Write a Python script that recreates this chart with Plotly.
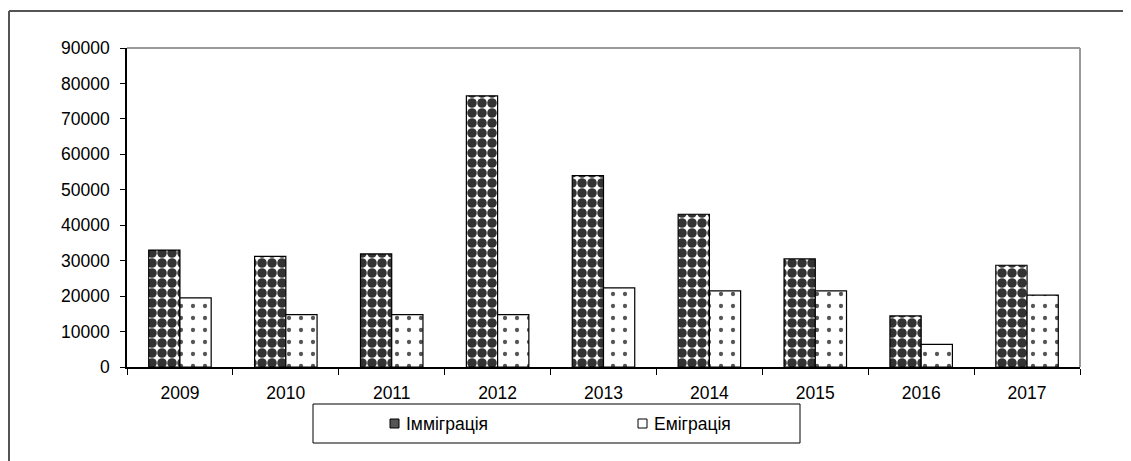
import plotly.graph_objects as go

years = ["2009", "2010", "2011", "2012", "2013", "2014", "2015", "2016", "2017"]
immigration = [33000, 31200, 31900, 76500, 54000, 43100, 30500, 14400, 28700]
emigration = [19500, 14800, 14800, 14800, 22300, 21500, 21500, 6400, 20300]
y_ticks = [0, 10000, 20000, 30000, 40000, 50000, 60000, 70000, 80000, 90000]
series_names = ["Імміграція", "Еміграція"]

# The page body has an 8px margin, so the figure is drawn 8px in from the window corner.
OFF = 8
W, H = 1131 - OFF, 461 - OFF
# plot area in window pixels
L, R, T, B = 127, 1080, 48, 367

def px(x):
    return (x - L) / (R - L)

def py(y):
    return (B - y) / (B - T)

fig = go.Figure()
fig.add_trace(go.Bar(
    x=years, y=immigration, name=series_names[0], showlegend=False,
    marker=dict(color="white", line=dict(color="black", width=1.2),
                pattern=dict(shape=".", fillmode="replace", bgcolor="white",
                             fgcolor="#333333", size=10, solidity=0.72)),
))
fig.add_trace(go.Bar(
    x=years, y=emigration, name=series_names[1], showlegend=False,
    marker=dict(color="white", line=dict(color="black", width=1.2),
                pattern=dict(shape=".", fillmode="replace", bgcolor="white",
                             fgcolor="#555555", size=12, solidity=0.1)),
))

shapes = [
    # plot area top and right borders (gray)
    dict(type="line", xref="paper", yref="paper", x0=0, x1=1, y0=1, y1=1,
         line=dict(color="#999999", width=2)),
    dict(type="line", xref="paper", yref="paper", x0=1, x1=1, y0=0, y1=1,
         line=dict(color="#999999", width=2)),
    # legend box
    dict(type="rect", xref="paper", yref="paper", x0=px(313), x1=px(800),
         y0=py(443), y1=py(404), line=dict(color="black", width=1)),
    # legend keys
    dict(type="rect", xref="paper", yref="paper", x0=px(390), x1=px(399),
         y0=py(428), y1=py(419), line=dict(color="black", width=1), fillcolor="#555555"),
    dict(type="rect", xref="paper", yref="paper", x0=px(638), x1=px(647),
         y0=py(428), y1=py(419), line=dict(color="black", width=1), fillcolor="white"),
    # outer frame
    dict(type="line", xref="paper", yref="paper", x0=px(9), x1=px(1140),
         y0=py(11), y1=py(11), line=dict(color="#555555", width=2)),
    dict(type="line", xref="paper", yref="paper", x0=px(9), x1=px(9),
         y0=py(11), y1=py(470), line=dict(color="#555555", width=2)),
]

annotations = [
    dict(xref="paper", yref="paper", x=px(404), y=py(424), xanchor="left", yanchor="middle",
         text=series_names[0], showarrow=False, font=dict(size=17.5)),
    dict(xref="paper", yref="paper", x=px(652), y=py(424), xanchor="left", yanchor="middle",
         text=series_names[1], showarrow=False, font=dict(size=17.5)),
]

fig.update_layout(
    width=W, height=H,
    margin=dict(l=L - OFF, r=(W + OFF) - R, t=T - OFF, b=(H + OFF) - B, pad=0),
    paper_bgcolor="white", plot_bgcolor="white",
    barmode="group", bargap=0.41, bargroupgap=0,
    font=dict(family="Liberation Sans, Arial, sans-serif", size=17.5, color="black"),
    showlegend=False,
    shapes=shapes,
    annotations=annotations,
    xaxis=dict(type="category", showline=True, linecolor="black", linewidth=1.5,
               ticks="outside", tickson="boundaries", ticklen=6, tickcolor="black",
               ticklabelstandoff=9,
               showgrid=False, fixedrange=True),
    yaxis=dict(range=[0, 90000], tickvals=y_ticks, showline=True, linecolor="black",
               linewidth=1.5, ticks="outside", ticklen=5, tickcolor="black",
               ticklabelstandoff=7,
               showgrid=False, zeroline=False, tickformat="d", fixedrange=True),
)

fig.write_html("out.html")
